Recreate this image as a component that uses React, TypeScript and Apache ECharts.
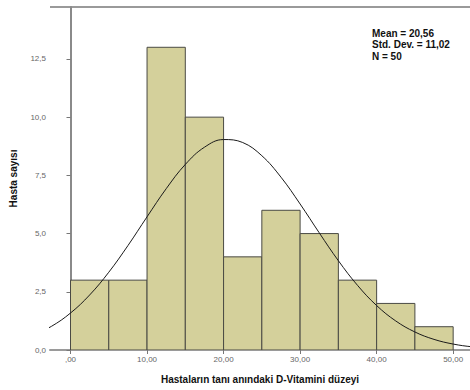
import React, { useEffect, useRef } from "react";
import * as echarts from "echarts";

// Histogram bins: [start, end, count]
const binStarts = [0, 5, 10, 15, 20, 25, 30, 35, 40, 45];
const binWidth = 5;
const binCounts = [3, 3, 13, 10, 4, 6, 5, 3, 2, 1];

// Fitted normal curve (Mean = 20,56, SD = 11,02, N = 50), read at step 2.5
const curveX = [-5, -2.5, 0, 2.5, 5, 7.5, 10, 12.5, 15, 17.5, 20, 22.5, 25, 27.5, 30, 32.5, 35, 37.5, 40, 42.5, 45, 47.5, 50, 52.5, 55];
const curveY = [0.615, 1.014, 1.588, 2.363, 3.339, 4.483, 5.719, 6.926, 7.969, 8.708, 9.038, 8.911, 8.344, 7.422, 6.271, 5.032, 3.835, 2.777, 1.909, 1.247, 0.774, 0.456, 0.255, 0.136, 0.0685];

const xTicks = [0, 10, 20, 30, 40, 50];
const yTicks = [0, 2.5, 5, 7.5, 10, 12.5];

const statsLines = ["Mean = 20,56", "Std. Dev. = 11,02", "N = 50"];

const fmt = (v: number, d: number) => {
  const s = v.toFixed(d).replace(".", ",");
  return s.startsWith("0,") && d === 2 ? s.slice(1) : s;
};

export default function App() {
  const ref = useRef<HTMLDivElement>(null);
  useEffect(() => {
    if (!ref.current) return;
    const chart = echarts.init(ref.current, undefined, { renderer: "svg" });
    const barData = binStarts.map((s, i) => [s, s + binWidth, binCounts[i]]);
    const lineData = curveX.map((x, i) => [x, curveY[i]]);
    const font = "'Liberation Sans', Arial, sans-serif";
    chart.setOption({
      animation: false,
      backgroundColor: "#ffffff",
      grid: { left: 50, top: 7, right: 0, bottom: 40 },
      xAxis: {
        type: "value",
        min: -2.68,
        max: 52.2,
        name: "Hastaların tanı anındaki D-Vitamini düzeyi",
        nameLocation: "middle",
        nameGap: 24,
        nameTextStyle: { fontFamily: font, fontWeight: "bold", fontSize: 10, color: "#111" },
        splitLine: { show: false },
        axisLine: { show: true, lineStyle: { color: "#9a9a9a", width: 2 } },
        axisTick: { show: true, customValues: xTicks, length: 4, lineStyle: { color: "#777" } },
        axisLabel: {
          customValues: xTicks,
          formatter: (v: number) => fmt(v, 2),
          fontFamily: font,
          fontSize: 8,
          color: "#666",
          margin: 5,
        },
      },
      yAxis: {
        type: "value",
        min: 0,
        max: 14.73,
        name: "Hasta sayısı",
        nameLocation: "middle",
        nameGap: 32,
        nameTextStyle: { fontFamily: font, fontWeight: "bold", fontSize: 10, color: "#111" },
        splitLine: { show: false },
        axisLine: { show: true, lineStyle: { color: "#8a8a8a", width: 2 } },
        axisTick: { show: true, customValues: yTicks, length: 4, lineStyle: { color: "#777" } },
        axisLabel: {
          customValues: yTicks,
          formatter: (v: number) => v.toFixed(1).replace(".", ","),
          fontFamily: font,
          fontSize: 8,
          color: "#666",
          margin: 4,
        },
      },
      series: [
        {
          type: "custom",
          data: barData,
          clip: true,
          renderItem: (params: any, api: any) => {
            const p0 = api.coord([api.value(0), api.value(2)]);
            const p1 = api.coord([api.value(1), 0]);
            return {
              type: "rect",
              shape: { x: p0[0], y: p0[1], width: p1[0] - p0[0], height: p1[1] - p0[1] },
              style: { fill: "#d4d09b", stroke: "#4a4a44", lineWidth: 1 },
            };
          },
          z: 2,
        },
        {
          type: "line",
          data: lineData,
          smooth: 0.4,
          showSymbol: false,
          clip: true,
          lineStyle: { color: "#1a1a1a", width: 1 },
          z: 3,
        },
      ],
      graphic: [
        {
          type: "line",
          shape: { x1: 50, y1: 7, x2: 470, y2: 7 },
          style: { stroke: "#9a9a9a", lineWidth: 2 },
        },
        ...statsLines.map((t, i) => ({
          type: "text",
          left: 372,
          top: 28 + i * 11.5,
          style: { text: t, fontFamily: font, fontWeight: "bold", fontSize: 10, fill: "#111" },
        })),
      ],
    });
    return () => chart.dispose();
  }, []);
  return <div ref={ref} style={{ width: 470, height: 390, position: "absolute", left: 0, top: 0 }} />;
}
